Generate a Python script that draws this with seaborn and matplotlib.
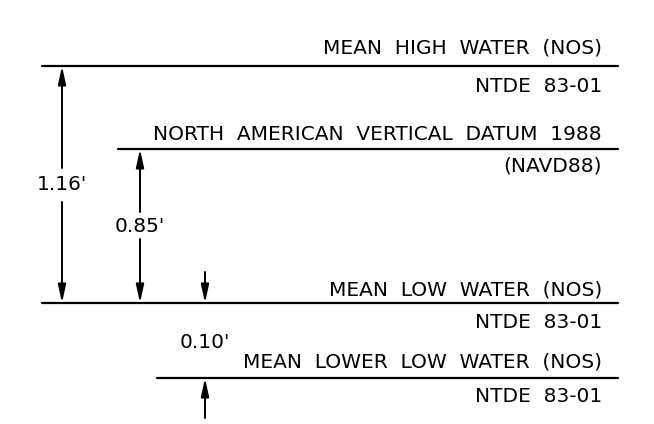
import matplotlib
matplotlib.use("Agg")
import matplotlib.pyplot as plt
import seaborn as sns
import pandas as pd

# ---- data ----
datum_names = ["MEAN HIGH WATER (NOS)", "NORTH AMERICAN VERTICAL DATUM 1988",
               "MEAN LOW WATER (NOS)", "MEAN LOWER LOW WATER (NOS)"]
datum_subs = ["NTDE 83-01", "(NAVD88)", "NTDE 83-01", "NTDE 83-01"]
elevations_ft = [1.16, 0.85, 0.00, -0.10]   # relative to MLW

# ---- layout (schematic, pixel-like units) ----
W, H = 654, 424
line_row = [66, 149, 303, 378]
line_start = [42, 118, 42, 157]
line_end = 618
text_right = 602
name_base = [54, 140, 295, 368]
sub_base = [92, 171, 328, 402]

sns.set_theme(style="white")
plt.rcParams["font.family"] = ["DejaVu Sans"]
plt.rcParams["text.color"] = "black"

fig = plt.figure(figsize=(W / 100, H / 100), dpi=100)
ax = fig.add_axes([0, 0, 1, 1])

rows = []
for i, n in enumerate(datum_names):
    rows.append({"datum": n, "x": line_start[i], "y": line_row[i]})
    rows.append({"datum": n, "x": line_end, "y": line_row[i]})
df = pd.DataFrame(rows)
sns.lineplot(data=df, x="x", y="y", units="datum", estimator=None,
             color="black", lw=1.6, ax=ax, legend=False, sort=False)
ax.set_xlim(0, W)
ax.set_ylim(H, 0)
ax.axis("off")

fs = 14.5
for i in range(len(datum_names)):
    ax.text(text_right, name_base[i], "  ".join(datum_names[i].split()),
            ha="right", va="baseline", fontsize=fs, color="black")
    ax.text(text_right, sub_base[i], "  ".join(datum_subs[i].split()),
            ha="right", va="baseline", fontsize=fs, color="black")

aprops = dict(arrowstyle="-|>,head_length=0.6,head_width=0.13",
              mutation_scale=18, color="black", lw=1.4,
              shrinkA=0, shrinkB=0)

def arrow(x, y0, y1):
    ax.annotate("", xy=(x, y1), xytext=(x, y0), arrowprops=aprops)

iMHW, iNAVD, iMLW, iMLLW = 0, 1, 2, 3
d1 = elevations_ft[iMHW] - elevations_ft[iMLW]
d2 = elevations_ft[iNAVD] - elevations_ft[iMLW]
d3 = elevations_ft[iMLW] - elevations_ft[iMLLW]

# 1.16' dimension
x1 = 62
arrow(x1, 168, line_row[iMHW])
arrow(x1, 202, line_row[iMLW])
ax.text(x1, 185, f"{d1:.2f}'", ha="center", va="center", fontsize=fs, color="black")

# 0.85' dimension
x2 = 140
arrow(x2, 212, line_row[iNAVD])
arrow(x2, 239, line_row[iMLW])
ax.text(x2, 226, f"{d2:.2f}'", ha="center", va="center", fontsize=fs, color="black")

# 0.10' dimension
x3 = 205
arrow(x3, 272, line_row[iMLW])
arrow(x3, 418, line_row[iMLLW])
ax.text(x3, 342, f"{d3:.2f}'", ha="center", va="center", fontsize=fs, color="black")

fig.savefig("out.png", dpi=100, facecolor="white")
